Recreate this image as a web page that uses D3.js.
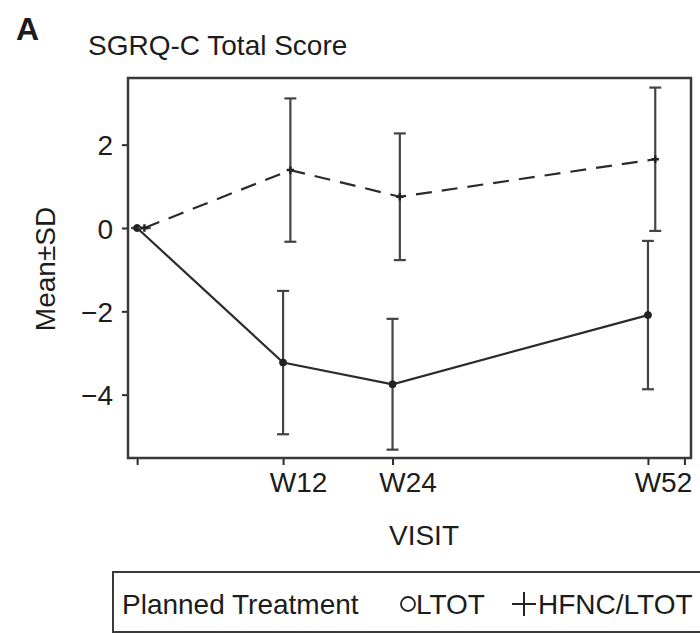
<!DOCTYPE html>
<html>
<head>
<meta charset="utf-8">
<script src="https://cdn.jsdelivr.net/npm/d3@7"></script>
<style>
  body { margin: 0; background: #fff; }
  text { font-family: "Liberation Sans", Arial, Helvetica, sans-serif; fill: #1c1c1c; }
</style>
</head>
<body>
<svg id="chart" width="700" height="633"></svg>
<script>
// Visits (numeric visit index drives the horizontal position)
const visits = ["Baseline", "W12", "W24", "W52"];
const visitNum = [0, 4, 7, 14];
const xTickValues = [0, 4, 7, 14, 15];
const xTickLabels = ["", "W12", "W24", "W52", ""];

// SGRQ-C total score change, mean and SD per group
const ltotMean = [0, -3.23, -3.75, -2.09];
const ltotSD   = [0, 1.72, 1.57, 1.78];
const hfncMean = [0, 1.39, 0.75, 1.65];
const hfncSD   = [0, 1.72, 1.52, 1.72];

const yTickValues = [-4, -2, 0, 2];
const legendTitle = "Planned Treatment";
const seriesNames = ["LTOT", "HFNC/LTOT"];

const svg = d3.select("#chart");
const frame = { left: 128, right: 691, top: 78, bottom: 458 };
const dodge = 0.2;
const ink = "#2b2b2b";

const x = d3.scaleLinear().domain([-0.25, 15.18]).range([frame.left, frame.right]);
const y = d3.scaleLinear().domain([-5.52, 3.6]).range([frame.bottom, frame.top]);

// Panel letter and title
svg.append("text").attr("x", 16).attr("y", 40)
  .attr("font-size", 32).attr("font-weight", "bold").text("A");
svg.append("text").attr("x", 88).attr("y", 55)
  .attr("font-size", 28).text("SGRQ-C Total Score");

// Axes
const xAxis = d3.axisBottom(x).tickValues(xTickValues)
  .tickFormat((d, i) => xTickLabels[i]).tickSize(7).tickSizeOuter(0);
const gx = svg.append("g").attr("transform", `translate(0,${frame.bottom})`).call(xAxis);
gx.select(".domain").remove();
gx.selectAll(".tick line").attr("stroke", ink).attr("stroke-width", 2);
gx.selectAll(".tick text").attr("font-size", 28).attr("dx", 15).attr("y", 14)
  .attr("dy", "0.71em").attr("fill", "#1c1c1c").attr("font-family", null);

const yAxis = d3.axisLeft(y).tickValues(yTickValues)
  .tickFormat(d => d < 0 ? "\u2212" + Math.abs(d) : d).tickSize(6).tickSizeOuter(0);
const gy = svg.append("g").attr("transform", `translate(${frame.left},0)`).call(yAxis);
gy.select(".domain").remove();
gy.selectAll(".tick line").attr("stroke", ink).attr("stroke-width", 2);
gy.selectAll(".tick text").attr("font-size", 28).attr("x", -15)
  .attr("dy", "0.36em").attr("fill", "#1c1c1c").attr("font-family", null);

// Frame
svg.append("rect")
  .attr("x", frame.left).attr("y", frame.top)
  .attr("width", frame.right - frame.left).attr("height", frame.bottom - frame.top)
  .attr("fill", "none").attr("stroke", "#3a3a3a").attr("stroke-width", 2.5);

// Axis titles
svg.append("text").attr("x", 424).attr("y", 545).attr("text-anchor", "middle")
  .attr("font-size", 28).text("VISIT");
svg.append("text").attr("transform", "translate(55,269) rotate(-90)")
  .attr("text-anchor", "middle").attr("font-size", 28).text("Mean\u00B1SD");

// Series
const series = [
  { name: seriesNames[0], mean: ltotMean, sd: ltotSD, off: 0, dash: null, marker: "circle" },
  { name: seriesNames[1], mean: hfncMean, sd: hfncSD, off: dodge, dash: "16,10", marker: "plus" }
];

const line = d3.line().x(d => x(d.v)).y(d => y(d.m));
const capHalf = 6;

series.forEach(s => {
  const pts = visitNum.map((v, i) => ({ v: v + s.off, m: s.mean[i], sd: s.sd[i] }));
  const g = svg.append("g");

  // error bars
  const eb = g.selectAll(".eb").data(pts).enter().append("g").attr("stroke", "#444").attr("stroke-width", 2.2);
  eb.append("line").attr("x1", d => x(d.v)).attr("x2", d => x(d.v))
    .attr("y1", d => y(d.m - d.sd)).attr("y2", d => y(d.m + d.sd));
  eb.append("line").attr("x1", d => x(d.v) - capHalf).attr("x2", d => x(d.v) + capHalf)
    .attr("y1", d => y(d.m + d.sd)).attr("y2", d => y(d.m + d.sd));
  eb.append("line").attr("x1", d => x(d.v) - capHalf).attr("x2", d => x(d.v) + capHalf)
    .attr("y1", d => y(d.m - d.sd)).attr("y2", d => y(d.m - d.sd));

  // connecting line
  g.append("path").datum(pts).attr("d", line).attr("fill", "none")
    .attr("stroke", ink).attr("stroke-width", 2.2)
    .attr("stroke-dasharray", s.dash);

  // markers
  if (s.marker === "circle") {
    g.selectAll(".pt").data(pts).enter().append("circle")
      .attr("cx", d => x(d.v)).attr("cy", d => y(d.m)).attr("r", 3.5)
      .attr("fill", "#222").attr("stroke", "#222").attr("stroke-width", 1);
  } else {
    g.selectAll(".pt").data(pts).enter().append("path")
      .attr("d", d3.symbol(d3.symbolCross, 30))
      .attr("transform", d => `translate(${x(d.v)},${y(d.m)})`)
      .attr("fill", "#222");
  }
});

// Legend
const lg = svg.append("g");
lg.append("rect").attr("x", 113).attr("y", 572).attr("width", 620).attr("height", 60)
  .attr("fill", "none").attr("stroke", "#3a3a3a").attr("stroke-width", 2);
lg.append("text").attr("x", 122).attr("y", 614).attr("font-size", 28).text(legendTitle);
lg.append("circle").attr("cx", 408).attr("cy", 604).attr("r", 7)
  .attr("fill", "none").attr("stroke", "#222").attr("stroke-width", 1.8);
lg.append("text").attr("x", 416).attr("y", 614).attr("font-size", 28).text(seriesNames[0]);
lg.append("path").attr("d", "M512,604H536M524,592V616")
  .attr("stroke", "#222").attr("stroke-width", 2);
lg.append("text").attr("x", 538).attr("y", 614).attr("font-size", 28).text(seriesNames[1]);
</script>
</body>
</html>
